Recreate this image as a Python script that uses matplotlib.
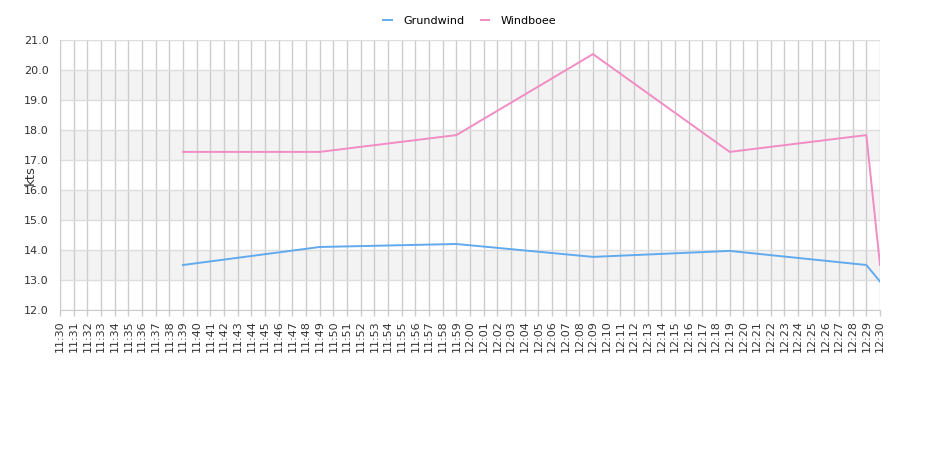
import matplotlib
matplotlib.use('Agg')
import matplotlib.pyplot as plt

# minute labels 11:30 .. 12:30
times = ['%d:%02d' % (11 + (30 + m) // 60, (30 + m) % 60) for m in range(61)]

# readings (kts), minute index into times
obs_idx = [9, 19, 29, 39, 49, 59, 60]
grundwind = [13.5, 14.1, 14.2, 13.77, 13.97, 13.5, 12.95]
windboee = [17.27, 17.27, 17.83, 20.53, 17.27, 17.83, 13.5]

y_ticks = [12, 13, 14, 15, 16, 17, 18, 19, 20, 21]
bands = [(13, 14), (15, 16), (17, 18), (19, 20)]

fig = plt.figure(figsize=(9.4, 4.5), dpi=100)
ax = fig.add_axes([60 / 940, 140 / 450, 820 / 940, 270 / 450])

for lo, hi in bands:
    ax.axhspan(lo, hi, color='#f3f3f3', zorder=0, lw=0)

for i in range(len(times)):
    ax.axvline(i, color='#cccccc', lw=1, zorder=1)
for y in y_ticks:
    ax.axhline(y, color='#dddddd', lw=1, zorder=1)

ax.plot(obs_idx, grundwind, color='#62aaee', lw=1.4, label='Grundwind', zorder=3)
ax.plot(obs_idx, windboee, color='#f28cc4', lw=1.4, label='Windboee', zorder=3)

ax.set_xlim(0, 60)
ax.set_ylim(12, 21)
ax.set_xticks(range(len(times)))
ax.set_xticklabels(times, rotation=90, fontsize=8, color='#333333')
ax.set_yticks(y_ticks)
ax.set_yticklabels(['%.1f' % v for v in y_ticks], fontsize=8, color='#333333')
ax.tick_params(axis='both', length=4, color='#cccccc', width=1)
ax.tick_params(axis='y', length=0, pad=8)

for s in ['top', 'right']:
    ax.spines[s].set_visible(False)
ax.spines['left'].set_color('#cccccc')
ax.spines['bottom'].set_color('#cccccc')

ax.set_ylabel('kts', fontsize=9.5, color='#333333')
ax.yaxis.set_label_coords(-0.028, 0.5)

ax.legend(loc='upper center', bbox_to_anchor=(0.5, 1.125), ncol=2, frameon=False,
          fontsize=8, handlelength=0.75, columnspacing=1.4, handletextpad=1.1)

fig.savefig('out.png', dpi=100)
